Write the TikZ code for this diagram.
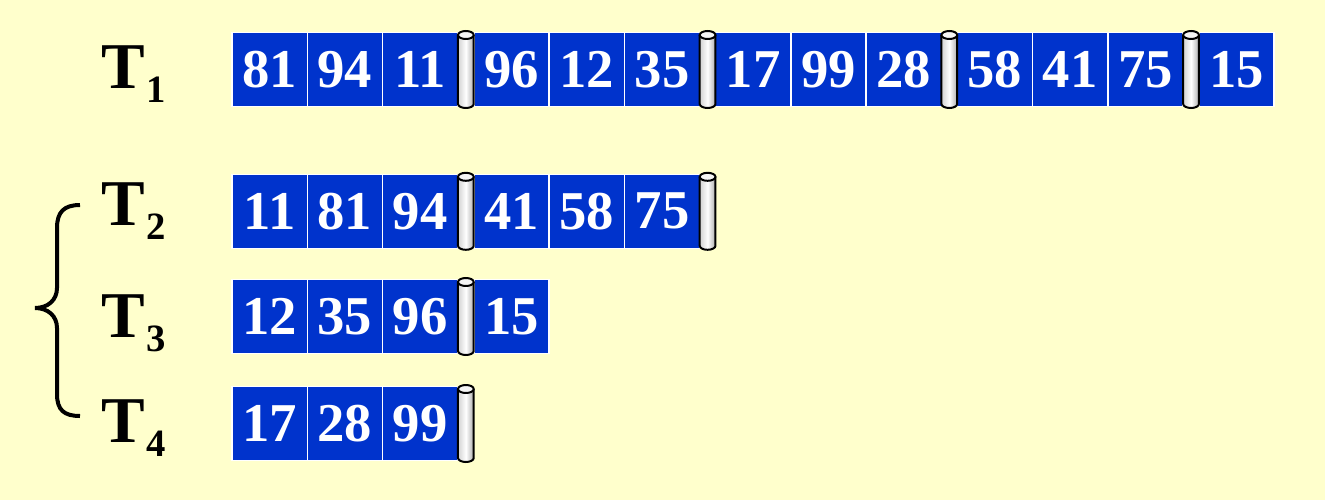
\documentclass[tikz,border=0pt]{standalone}
\usepackage{fontspec}
\setmainfont{Liberation Serif}
\usepackage{tikz}
\usetikzlibrary{positioning}

\definecolor{paper}{RGB}{255,255,204}
\definecolor{cellblue}{RGB}{0,51,204}
\newcommand{\tname}[1]{T\kern1pt\raisebox{-11pt}{\fontsize{29}{29}\selectfont #1}}

\begin{document}
\begin{tikzpicture}[x=0.75pt, y=-0.75pt, node distance=0pt]
		\tikzstyle{cell} = [draw=white, line width=1.2pt, fill=cellblue, minimum width=56.5pt, minimum height=55.5pt, inner sep=0pt, outer sep=0pt, text=white, font=\fontsize{41}{41}\selectfont\bfseries]
		\tikzstyle{pipe} = [minimum width=11.8pt, minimum height=57.75pt, inner sep=0pt, outer sep=0pt]
		\tikzstyle{pipeshade} = [left color=gray!35, right color=gray!65, middle color=white]
		\tikzstyle{tname} = [inner sep=0pt, anchor=base west, font=\fontsize{49}{49}\selectfont\bfseries]
		
		\fill[paper] (0,0) rectangle (1325,500);
		\useasboundingbox (0,0) rectangle (1325,500);
		
		% T1
		\node[tname] 	at (101, 88) 		(t1) 	{\tname{1}};
		\node[cell] 	at (269.65, 69.5) 	(a1) 	{81};
		\node[cell, right=of a1] 	(a2) 	{94};
		\node[cell, right=of a2] 	(a3) 	{11};
		\node[pipe, right=of a3] 	(a3s) 	{};
		\node[cell, right=of a3s] 	(a4) 	{96};
		\node[cell, right=of a4] 	(a5) 	{12};
		\node[cell, right=of a5] 	(a6) 	{35};
		\node[pipe, right=of a6] 	(a6s) 	{};
		\node[cell, right=of a6s] 	(a7) 	{17};
		\node[cell, right=of a7] 	(a8) 	{99};
		\node[cell, right=of a8] 	(a9) 	{28};
		\node[pipe, right=of a9] 	(a9s) 	{};
		\node[cell, right=of a9s] 	(a10) 	{58};
		\node[cell, right=of a10] 	(a11) 	{41};
		\node[cell, right=of a11] 	(a12) 	{75};
		\node[pipe, right=of a12] 	(a12s) 	{};
		\node[cell, right=of a12s] 	(a13) 	{15};
		
		% T2
		\node[tname] 	at (101, 225) 		(t2) 	{\tname{2}};
		\node[cell] 	at (269.65, 211.3) 	(b1) 	{11};
		\node[cell, right=of b1] 	(b2) 	{81};
		\node[cell, right=of b2] 	(b3) 	{94};
		\node[pipe, right=of b3] 	(b3s) 	{};
		\node[cell, right=of b3s] 	(b4) 	{41};
		\node[cell, right=of b4] 	(b5) 	{58};
		\node[cell, right=of b5] 	(b6) 	{75};
		\node[pipe, right=of b6] 	(b6s) 	{};
		
		% T3
		\node[tname] 	at (101, 337) 		(t3) 	{\tname{3}};
		\node[cell] 	at (269.65, 316.5) 	(c1) 	{12};
		\node[cell, right=of c1] 	(c2) 	{35};
		\node[cell, right=of c2] 	(c3) 	{96};
		\node[pipe, right=of c3] 	(c3s) 	{};
		\node[cell, right=of c3s] 	(c4) 	{15};
		
		% T4
		\node[tname] 	at (101, 442) 		(t4) 	{\tname{4}};
		\node[cell] 	at (269.65, 423.5) 	(d1) 	{17};
		\node[cell, right=of d1] 	(d2) 	{28};
		\node[cell, right=of d2] 	(d3) 	{99};
		\node[pipe, right=of d3] 	(d3s) 	{};
		
		% the little cylinders between the runs
		\foreach \p in {a3s, a6s, a9s, a12s, b3s, b6s, c3s, d3s} {
			\shade[pipeshade] ([yshift=-3pt]\p.north west) -- ([yshift=3pt]\p.south west)
				arc[start angle=180, end angle=360, x radius=5.9pt, y radius=3pt]
				-- ([yshift=-3pt]\p.north east)
				arc[start angle=0, end angle=180, x radius=5.9pt, y radius=3pt] -- cycle;
			\draw[line width=1.5pt] ([yshift=-3pt]\p.north west) -- ([yshift=3pt]\p.south west)
				arc[start angle=180, end angle=360, x radius=5.9pt, y radius=3pt]
				-- ([yshift=-3pt]\p.north east);
			\draw[line width=1.5pt, fill=gray!8] ([yshift=-3pt]\p.north) ellipse[x radius=5.9pt, y radius=3pt];
		}
		
		% brace round T2..T4
		\draw[line width=3pt] (80,205) .. controls (64,205) and (57,212) .. (57,228) -- (57,288)
			.. controls (57,300) and (48,308) .. (35,308)
			.. controls (48,308) and (57,316) .. (57,328) -- (57,394)
			.. controls (57,410) and (64,416) .. (80,416);
		\end{tikzpicture}
\end{document}
